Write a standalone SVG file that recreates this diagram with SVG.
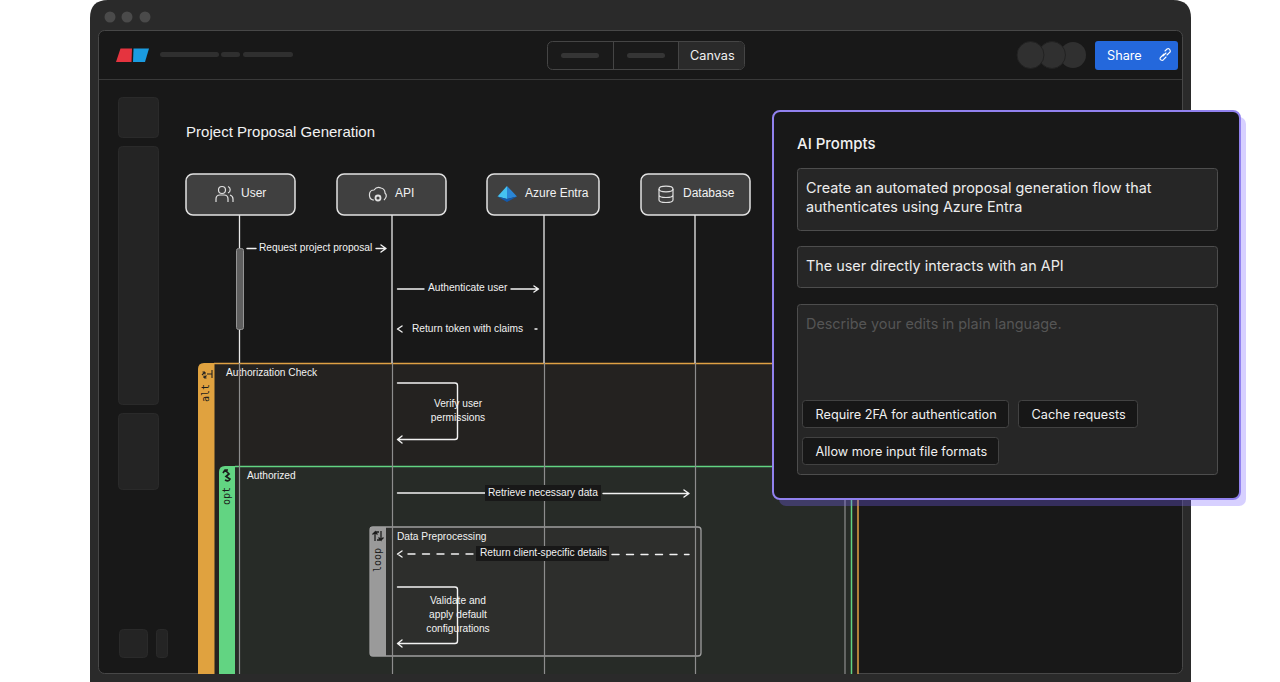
<svg xmlns="http://www.w3.org/2000/svg" width="1280" height="682" viewBox="0 0 1280 682">
<style>
.d{font-family:"Liberation Sans",Arial,sans-serif;fill:#f2f2f2;font-size:10.2px}
.n{font-family:"Liberation Sans",Arial,sans-serif;fill:#f2f2f2;font-size:12px}
.p{font-family:Inter,"Noto Sans",sans-serif;fill:#ececec;font-size:14.4px}
.b{font-family:Inter,"Noto Sans",sans-serif;fill:#f0f0f0;font-size:12.7px}
.m{font-family:"DejaVu Sans Mono","Liberation Mono",monospace;fill:#1c1c1c;font-size:10px}
.node{fill:#404040;stroke:#e2e2e2;stroke-width:1.5}
.life{stroke:#e8e8e8;stroke-width:1.3;fill:none}
.fl{stroke:#f2f2f2;stroke-width:1.4;fill:none;stroke-linecap:round;stroke-linejoin:round}
.ic{stroke:#e0e0e0;stroke-width:1.2;fill:none}
.sb{fill:#242424;stroke:#2a2a2a}
.box{fill:#262626;stroke:#4d4d4d;stroke-width:1}
.chip{fill:#171717;stroke:#424242;stroke-width:1}
.bar{fill:#2f2f2f}
</style>
<rect width="1280" height="682" fill="#ffffff"/>
<g id="window">
<path d="M90 682V18Q90 0 108 0H1173Q1191 0 1191 18V682Z" fill="#2a2a2a"/>
<circle cx="110" cy="17" r="5.5" fill="#4a4a4a"/><circle cx="127" cy="17" r="5.5" fill="#4a4a4a"/><circle cx="145" cy="17" r="5.5" fill="#4a4a4a"/>
<rect x="98.500" y="30.500" width="1084" height="643" rx="6" fill="#181818" stroke="#474747"/>
<line x1="99" y1="79.500" x2="1182" y2="79.500" stroke="#393939"/>
</g>
<g id="logo"><path d="M120.500 48.500H132L131.500 62H116Z" fill="#e5343f"/><path d="M133.500 48.500H149L145 62H133Z" fill="#1a9be0"/></g>
<g id="crumbs"><rect x="160" y="52" width="59" height="5" rx="2.500" class="bar"/><rect x="221" y="52" width="19" height="5" rx="2.500" class="bar"/><rect x="243" y="52" width="50" height="5" rx="2.500" class="bar"/></g>
<g id="tabs">
<rect x="547.500" y="41.500" width="197" height="28" rx="5" fill="#1a1a1a" stroke="#454545"/>
<path d="M679 42H740Q744 42 744 46V65Q744 69 740 69H679Z" fill="#2a2a2a"/>
<line x1="613.500" y1="42" x2="613.500" y2="69" stroke="#454545"/><line x1="678.500" y1="42" x2="678.500" y2="69" stroke="#454545"/>
<rect x="561" y="53" width="38" height="5" rx="2.500" fill="#353535"/><rect x="627" y="53" width="38" height="5" rx="2.500" fill="#353535"/>
<text x="690" y="60" class="b">Canvas</text>
</g>
<g id="avatars"><circle cx="1073" cy="55" r="13" fill="#303030"/><circle cx="1052" cy="55" r="13.500" fill="#303030" stroke="#222"/><circle cx="1030.500" cy="55" r="13.500" fill="#303030" stroke="#222"/></g>
<g id="share">
<rect x="1095" y="41" width="83" height="29" rx="3" fill="#2468dc"/>
<text x="1107" y="60" class="b" style="fill:#fff">Share</text>
<g fill="none" stroke="#fff" stroke-width="1.100" stroke-linecap="round"><path d="M1163 56L1166 53"/><path d="M1165 51L1167 49Q1169 48 1170 50Q1171 52 1169 53L1167 55"/><path d="M1164 54L1161 57Q1159 59 1161 60Q1163 61 1164 59L1166 57"/></g>
</g>
<g id="sidebar">
<rect x="118.500" y="97.500" width="40" height="40" rx="4" class="sb"/>
<rect x="118.500" y="146.500" width="40" height="258" rx="4" class="sb"/>
<rect x="118.500" y="413.500" width="40" height="76" rx="4" class="sb"/>
<rect x="119.500" y="629.500" width="28" height="28" rx="4" class="sb"/>
<rect x="156.500" y="629.500" width="11" height="28" rx="3" class="sb"/>
</g>
<text id="title" x="186" y="137" class="n" style="font-size:15px" textLength="189">Project Proposal Generation</text>
<g id="alt">
<path d="M198 674V369Q198 363 204 363H858V674Z" fill="#242220"/>
<path d="M198 674V369Q198 363 204 363H214.500V674Z" fill="#e0a23f"/>
<path d="M214 363.500H858V674" fill="none" stroke="#dfa144" stroke-width="1.500"/>
<path d="M202 375L205 372M205 372H202.500M205 372V374.500M212 370V378M212 374H207M204 378L206.500 375.500M204 378V375.500M204 378H206.500" fill="none" stroke="#222" stroke-width="1.100"/>
<text transform="translate(209 402) rotate(-90)" class="m">alt</text>
<text x="226" y="376" class="d">Authorization Check</text>
</g>
<g id="opt">
<path d="M219 674V472Q219 466 225 466H852V674Z" fill="#272b27"/>
<path d="M219 674V472Q219 466 225 466H235V674Z" fill="#62d482"/>
<path d="M235 466.500H851.500V674" fill="none" stroke="#62d482" stroke-width="1.500"/>
<path d="M225 470L229 474L226 476.500L230 479Q229 482 225 480M223 473L225 470L228 470" fill="none" stroke="#1c1c1c" stroke-width="1.700"/>
<text transform="translate(230 505) rotate(-90)" class="m">opt</text>
<text x="247" y="479" class="d">Authorized</text>
</g>
<g id="loop">
<rect x="370" y="527" width="331" height="129" rx="3" fill="#2d2e2c"/>
<path d="M386 527H370V653Q370 656 373 656H386Z" fill="#9a9a9a"/>
<rect x="370" y="527" width="331" height="129" rx="3" fill="none" stroke="#9e9e9e" stroke-width="1.300"/>
<path d="M375 541V532L372.500 534.500M375 532L377.500 534.500M381 531V540L378.500 537.500M381 540L383.500 537.500M375 532H379M381 540H377" fill="none" stroke="#1c1c1c" stroke-width="1.300"/>
<text transform="translate(381 572) rotate(-90)" class="m">loop</text>
<text x="397" y="540" class="d">Data Preprocessing</text>
</g>
<g id="connectors">
<path class="life" d="M239.500 215V248M239.500 330V363"/>
<path class="life" d="M392 215V363M544 215V363M695 215V363"/>
<path d="M239.500 363V674M392.500 363V674M544.500 363V674M695.500 363V674M845 466V674" stroke="#8d8d8d" stroke-width="1.200" fill="none"/>
<path class="fl" d="M247 248.500H256M376 248.500H385.500M381 245L386 248.500L381 252"/>
<path class="fl" d="M397.500 289H424M511 289H538M534 286L538.500 289L534 292"/>
<path class="fl" d="M402 326L397.500 329L402 332M535 329H537"/>
<path class="fl" d="M397.500 383H455Q457.500 383 457.500 385.500V437Q457.500 439.500 455 439.500H397.500M402 436L397.500 439.500L402 443"/>
<path class="fl" d="M397.500 493H485M603 493.500H688.500M684 490L689 493.500L684 497"/>
<path class="fl" stroke-dasharray="7 7.500" d="M408 554H474"/><path class="fl" d="M402 551L397.500 554L402 557"/>
<path class="fl" stroke-dasharray="7 7.500" d="M612 554.500H689"/>
<path class="fl" d="M397.500 587H455Q457.500 587 457.500 589.500V641Q457.500 643.500 455 643.500H397.500M402 640L397.500 643.500L402 647"/>
</g>
<g id="activation"><rect x="236.500" y="248.500" width="7" height="81" rx="2" fill="#5f5f5f" stroke="#959595"/></g>
<g id="node-user"><rect x="186" y="174" width="109" height="41" rx="7" class="node"/>
<g class="ic"><circle cx="222" cy="190" r="3.500"/><path d="M216 202V199Q216 195 220 195H224Q228 195 228 199V202"/><path d="M228 186.500A3.500 3.500 0 0 1 228 193M230 195Q233 196 233 199V202"/></g>
<text x="241" y="197" class="n">User</text></g>
<g id="node-api"><rect x="337" y="174" width="109" height="41" rx="7" class="node"/>
<g class="ic"><path d="M374 200H373Q369 199 369.500 194Q370 190 374 190Q377 186 381 188Q385 189 385 193Q388 196 384 200"/><circle cx="378" cy="198" r="2.500" stroke-width="1.800"/></g>
<text x="395" y="197" class="n">API</text></g>
<g id="node-azure"><rect x="487" y="174" width="112" height="41" rx="7" class="node"/>
<path d="M507 186L497.500 196.500L507 199Z" fill="#45c2f0"/><path d="M507 186L517 196.500L507 199Z" fill="#2a86d6"/><path d="M507 199L497.500 196.500L507 202L517 196.500Z" fill="#1259ad"/>
<text x="525" y="197" class="n">Azure Entra</text></g>
<g id="node-db"><rect x="641" y="174" width="109" height="41" rx="7" class="node"/>
<g class="ic"><ellipse cx="666" cy="189" rx="7" ry="2.800"/><path d="M659 189V200Q659 202.500 666 202.500Q673 202.500 673 200V189M659 195Q659 197.500 666 197.500Q673 197.500 673 195"/></g>
<text x="683" y="197" class="n">Database</text></g>
<g id="labels">
<text x="259" y="251" class="d">Request project proposal</text>
<text x="428" y="291" class="d">Authenticate user</text>
<text x="412" y="332" class="d">Return token with claims</text>
<text x="458" y="407" class="d" text-anchor="middle">Verify user</text>
<text x="458" y="421" class="d" text-anchor="middle">permissions</text>
<rect x="485" y="485" width="116" height="16" fill="#181818"/>
<text x="488" y="495.500" class="d">Retrieve necessary data</text>
<rect x="476" y="546" width="133" height="15" fill="#181818"/>
<text x="480" y="556" class="d">Return client-specific details</text>
<text x="458" y="604" class="d" text-anchor="middle">Validate and</text>
<text x="458" y="618" class="d" text-anchor="middle">apply default</text>
<text x="458" y="632" class="d" text-anchor="middle">configurations</text>
</g>
<g id="panel">
<rect x="779" y="117" width="467" height="389" rx="7" fill="#7c64ff" fill-opacity=".3"/>
<rect x="773" y="111" width="467" height="388" rx="7" fill="#181818" stroke="#9181ee" stroke-width="2"/>
<text x="797" y="149" class="p" style="font-size:15px;font-weight:500;fill:#f2f2f2">AI Prompts</text>
<rect x="797.500" y="168.500" width="420" height="62" rx="3" class="box"/>
<text x="806" y="193" class="p">Create an automated proposal generation flow that</text>
<text x="806" y="212" class="p">authenticates using Azure Entra</text>
<rect x="797.500" y="246.500" width="420" height="41" rx="3" class="box"/>
<text x="806" y="271" class="p">The user directly interacts with an API</text>
<rect x="797.500" y="304.500" width="420" height="170" rx="3" class="box"/>
<text x="806" y="329" class="p" style="fill:#555">Describe your edits in plain language.</text>
<rect x="802.500" y="400.500" width="206" height="27" rx="3" class="chip"/>
<text x="815.500" y="419" class="b">Require 2FA for authentication</text>
<rect x="1018.500" y="400.500" width="119" height="27" rx="3" class="chip"/>
<text x="1031.500" y="419" class="b">Cache requests</text>
<rect x="802.500" y="437.500" width="196" height="27" rx="3" class="chip"/>
<text x="815.500" y="456" class="b">Allow more input file formats</text>
</g>
</svg>
